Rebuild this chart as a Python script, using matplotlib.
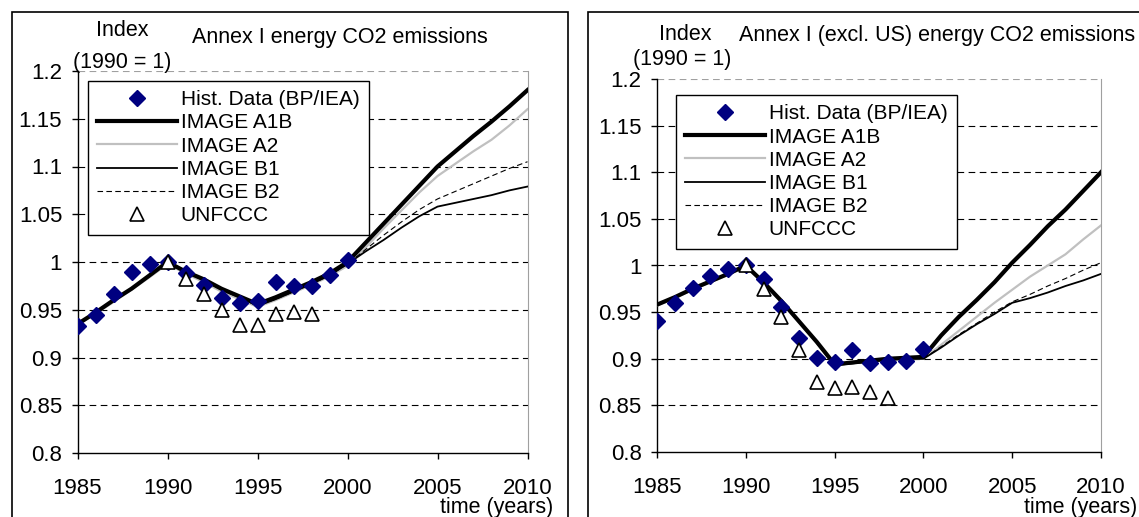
import matplotlib
matplotlib.use("Agg")
import matplotlib.pyplot as plt
from matplotlib.patches import Rectangle

plt.rcParams['font.family'] = ['Liberation Sans', 'DejaVu Sans']

# ---------------- data ----------------
hist_years = list(range(1985, 2001))
unf_years = list(range(1990, 1999))
model_years = list(range(1985, 2011))

# Annex I
hist_ann1 = [0.933, 0.944, 0.967, 0.990, 0.998, 1.000, 0.988, 0.976, 0.962,
             0.957, 0.959, 0.979, 0.975, 0.975, 0.986, 1.002]
unf_ann1 = [1.000, 0.982, 0.967, 0.950, 0.934, 0.934, 0.946, 0.948, 0.946]
a1b_ann1 = [0.935, 0.947, 0.960, 0.972, 0.986, 1.000, 0.990, 0.982, 0.972, 0.964, 0.956,
            0.963, 0.971, 0.979, 0.988, 1.000, 1.020, 1.040, 1.060, 1.080, 1.100,
            1.116, 1.132, 1.147, 1.163, 1.180]
a2_ann1 = [0.934, 0.946, 0.958, 0.971, 0.984, 0.998, 0.988, 0.979, 0.969, 0.961, 0.953,
           0.960, 0.968, 0.976, 0.985, 0.996, 1.015, 1.035, 1.054, 1.073, 1.090,
           1.103, 1.116, 1.128, 1.143, 1.160]
b1_ann1 = [0.935, 0.947, 0.960, 0.972, 0.985, 1.000, 0.990, 0.981, 0.971, 0.963, 0.954,
           0.961, 0.969, 0.977, 0.986, 0.998, 1.011, 1.023, 1.036, 1.048, 1.058,
           1.062, 1.066, 1.070, 1.075, 1.079]
b2_ann1 = [0.935, 0.947, 0.960, 0.972, 0.985, 1.000, 0.990, 0.981, 0.971, 0.963, 0.954,
           0.961, 0.969, 0.977, 0.986, 0.998, 1.013, 1.028, 1.042, 1.055, 1.066,
           1.074, 1.082, 1.090, 1.098, 1.105]

# Annex I excl. US
hist_exus = [0.941, 0.960, 0.976, 0.989, 0.996, 1.000, 0.985, 0.955, 0.922,
             0.901, 0.896, 0.909, 0.895, 0.896, 0.898, 0.910]
unf_exus = [1.000, 0.975, 0.945, 0.909, 0.875, 0.869, 0.870, 0.864, 0.858]
a1b_exus = [0.958, 0.966, 0.975, 0.983, 0.991, 1.000, 0.982, 0.962, 0.940, 0.918, 0.894,
            0.896, 0.898, 0.900, 0.901, 0.902, 0.925, 0.945, 0.963, 0.982, 1.003,
            1.022, 1.042, 1.060, 1.080, 1.100]
a2_exus = [0.957, 0.965, 0.974, 0.982, 0.990, 0.999, 0.981, 0.961, 0.939, 0.917, 0.893,
           0.895, 0.897, 0.898, 0.899, 0.900, 0.915, 0.930, 0.945, 0.960, 0.974,
           0.988, 1.000, 1.012, 1.028, 1.043]
b1_exus = [0.958, 0.966, 0.975, 0.983, 0.991, 1.000, 0.982, 0.962, 0.940, 0.917, 0.893,
           0.895, 0.897, 0.899, 0.900, 0.900, 0.912, 0.925, 0.937, 0.948, 0.960,
           0.965, 0.971, 0.978, 0.984, 0.991]
b2_exus = [0.958, 0.966, 0.975, 0.983, 0.991, 1.000, 0.982, 0.962, 0.940, 0.917, 0.893,
           0.895, 0.897, 0.899, 0.900, 0.900, 0.913, 0.926, 0.938, 0.950, 0.961,
           0.969, 0.978, 0.986, 0.995, 1.003]

yticks = [0.8, 0.85, 0.9, 0.95, 1.0, 1.05, 1.1, 1.15, 1.2]
ytick_labels = ['0.8', '0.85', '0.9', '0.95', '1', '1.05', '1.1', '1.15', '1.2']
xticks = [1985, 1990, 1995, 2000, 2005, 2010]

W, H = 1139, 517
fig = plt.figure(figsize=(W / 100, H / 100), dpi=100)

# outer chart frames (Excel chart areas)
fig.patches.append(Rectangle((12 / W, -0.05), 556 / W, 1.05 - 12 / H, transform=fig.transFigure,
                             fill=False, edgecolor='black', linewidth=1.2))
fig.patches.append(Rectangle((588 / W, -0.05), 0.6, 1.05 - 12 / H, transform=fig.transFigure,
                             fill=False, edgecolor='black', linewidth=1.2))


def draw_panel(rect, hist, unf, a1b, a2, b1, b2, title, title_xy, index_xy, paren_xy, leg_anchor, time_x):
    ax = fig.add_axes(rect)
    for y in yticks[1:-1]:
        ax.axhline(y, color='black', linestyle=(0, (6, 4)), linewidth=0.8, zorder=1)
    ax.axhline(1.2, color='#a0a0a0', linestyle=(0, (6, 4)), linewidth=0.8, zorder=1)

    ax.plot(model_years, a2, color='#c0c0c0', linewidth=1.6, label='IMAGE A2', zorder=3)
    ax.plot(model_years, b2, color='black', linestyle=(0, (5, 3)), linewidth=0.8, label='IMAGE B2', zorder=3)
    ax.plot(model_years, b1, color='black', linewidth=1.3, label='IMAGE B1', zorder=3)
    ax.plot(model_years, a1b, color='black', linewidth=3, label='IMAGE A1B', zorder=4)
    ax.plot(hist_years, hist, linestyle='none', marker='D', markersize=8, color='#000080',
            markeredgecolor='#000080', label='Hist. Data (BP/IEA)', zorder=5)
    ax.plot(unf_years, unf, linestyle='none', marker='^', markersize=10, markerfacecolor='white',
            markeredgecolor='black', markeredgewidth=1.2, label='UNFCCC', zorder=6)

    ax.set_xlim(1985, 2010)
    ax.set_ylim(0.8, 1.2)
    ax.set_xticks(xticks)
    ax.set_yticks(yticks)
    ax.set_yticklabels(ytick_labels)
    ax.tick_params(direction='out', length=4, width=1, labelsize=16)
    ax.tick_params(axis='x', pad=14)
    ax.tick_params(axis='y', pad=7)
    ax.spines['top'].set_visible(False)
    ax.spines['right'].set_color('#a0a0a0')
    ax.spines['left'].set_linewidth(1)
    ax.spines['bottom'].set_linewidth(1)

    handles, labels = ax.get_legend_handles_labels()
    order = ['Hist. Data (BP/IEA)', 'IMAGE A1B', 'IMAGE A2', 'IMAGE B1', 'IMAGE B2', 'UNFCCC']
    hmap = dict(zip(labels, handles))
    leg = ax.legend([hmap[k] for k in order], order, loc='upper left', bbox_to_anchor=leg_anchor,
                    borderaxespad=0, fontsize=15, frameon=True, fancybox=False, framealpha=1,
                    edgecolor='black', labelspacing=0.2, handlelength=3.8, handletextpad=0.2,
                    borderpad=0.45)
    leg.get_frame().set_linewidth(1)
    leg.set_zorder(10)

    fig.text(title_xy[0] / W, 1 - title_xy[1] / H, title, fontsize=15.5, ha='left', va='center')
    fig.text(index_xy[0] / W, 1 - index_xy[1] / H, 'Index', fontsize=15.5, ha='center', va='center')
    fig.text(paren_xy[0] / W, 1 - paren_xy[1] / H, '(1990 = 1)', fontsize=15.5, ha='center', va='center')
    fig.text(time_x / W, 1 - 508 / H, 'time (years)', fontsize=15.5, ha='right', va='center')
    return ax


axl = draw_panel([77.5 / W, 64 / H, 450 / W, 382 / H], hist_ann1, unf_ann1, a1b_ann1, a2_ann1,
                 b1_ann1, b2_ann1, 'Annex I energy CO2 emissions',
                 (192, 38), (122, 31), (122, 63), (0.0233, 0.974), 553)

axr = draw_panel([657 / W, 65 / H, 444 / W, 373 / H], hist_exus, unf_exus, a1b_exus, a2_exus,
                 b1_exus, b2_exus, 'Annex I (excl. US) energy CO2 emissions',
                 (739, 36), (685, 35), (682, 60), (0.0428, 0.957), 1137)

fig.savefig('out.png', dpi=100)
